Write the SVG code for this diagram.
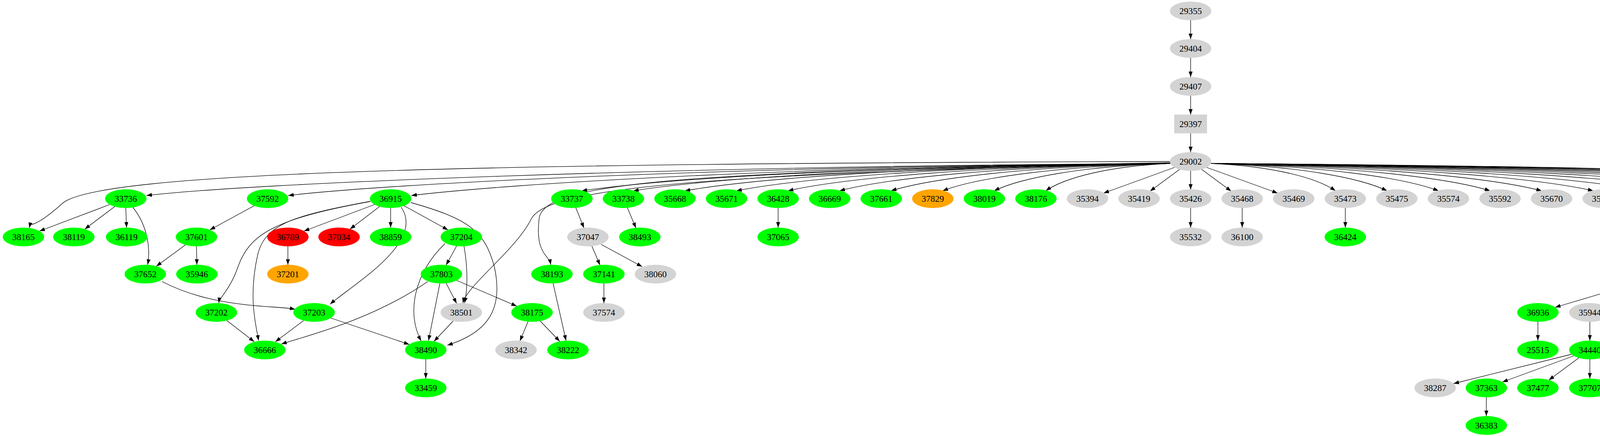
<svg xmlns="http://www.w3.org/2000/svg" width="5483" height="1115" viewBox="0 0 5483 1115">
<style>
.n ellipse,.n rect{stroke:none}
.g ellipse{fill:#00ff00}.y0 ellipse,.y0 rect{fill:#d3d3d3}.r ellipse{fill:#ff0000}.o ellipse{fill:#ffa500}.yl ellipse{fill:#ffff00}
text{font-family:"Liberation Serif","Times New Roman",serif;font-size:23px;text-anchor:middle;fill:#000}
#edges path{fill:none;stroke:#000;stroke-width:1.3;marker-end:url(#ah)}
</style>
<defs><marker id="ah" markerUnits="userSpaceOnUse" markerWidth="14" markerHeight="10" refX="14" refY="5" orient="auto"><path d="M0,0 L14,5 L0,10 z" fill="#000"/></marker></defs>
<rect width="5483" height="1115" fill="#fff"/>
<g id="edges">
<path d="M3048,52 L3048,100"/><path d="M3048,148 L3048,197"/><path d="M3048,245 L3048,293"/><path d="M3048,341 L3048,389"/>
<path d="M2995,413 C1200,418 250,440 160,520 S80,560 75,583"/>
<path d="M2998,416 C1700,440 1390,470 1380,560 S1405,650 1410,677"/>
<path d="M2998,418 C1800,445 1400,480 1360,560 S1195,730 1185,775"/>
<path d="M3020,433 L2944,489"/><path d="M3076,433 L3152,489"/><path d="M3048,437 L3048,485"/>
<path d="M3007,428 L2825,494"/><path d="M3089,428 L3271,494"/>
<path d="M2996,418 C2836,425 2725,455 2677,488"/>
<path d="M2996,418 C2770,425 2613,455 2545,488"/>
<path d="M2996,418 C2704,425 2500,455 2413,488"/>
<path d="M2996,418 C2638,425 2388,455 2281,488"/>
<path d="M2996,418 C2572,425 2276,455 2149,488"/>
<path d="M2996,418 C2506,425 2164,455 2017,488"/>
<path d="M2996,418 C2440,425 2052,455 1885,488"/>
<path d="M2996,418 C2374,425 1939,455 1753,488"/>
<path d="M2996,418 C2308,425 1827,455 1621,488"/>
<path d="M2996,418 C2242,425 1715,455 1489,488"/>
<path d="M2996,418 C2024,425 1303,470 1053,500"/>
<path d="M2996,418 C1867,425 988,470 738,500"/>
<path d="M2996,418 C1685,425 625,470 375,500"/>
<path d="M3100,418 C3259,425 3371,455 3419,488"/>
<path d="M3100,418 C3325,425 3483,455 3551,488"/>
<path d="M3100,418 C3391,425 3596,455 3683,488"/>
<path d="M3100,418 C3457,425 3708,455 3815,488"/>
<path d="M3100,418 C3523,425 3820,455 3947,488"/>
<path d="M3100,418 C3589,425 3932,455 4079,488"/>
<path d="M3100,418 C3655,425 4044,455 4211,488"/>
<path d="M3100,418 C3721,425 4157,455 4343,488"/>
<path d="M3100,418 C3787,425 4269,455 4475,488"/>
<path d="M3100,418 C3853,425 4381,455 4607,488"/>
<path d="M3100,418 C3919,425 4489,455 4739,488"/>
<path d="M3100,418 C3985,425 4621,455 4871,488"/>
<path d="M3100,418 C4051,425 4753,455 5003,488"/>
<path d="M3100,418 C4117,425 4885,455 5135,488"/>
<path d="M3100,418 C4183,425 5017,455 5267,488"/>
<path d="M3100,418 C4249,425 5149,455 5399,488"/>
<path d="M281,523 L101,591"/><path d="M294,528 L217,586"/><path d="M322,532 L324,582"/>
<path d="M340,530 C380,580 385,640 378,677"/>
<path d="M651,526 L537,588"/><path d="M475,626 L400,681"/><path d="M503,630 L504,677"/>
<path d="M959,523 L778,591"/><path d="M972,528 L896,586"/><path d="M1000,532 L1000,582"/><path d="M1034,526 L1147,588"/>
<path d="M948,515 C700,560 640,600 610,680 C590,740 562,760 560,775"/>
<path d="M948,515 C760,550 680,570 660,650 C635,760 655,830 662,871"/>
<path d="M1027,530 C1090,620 900,730 845,778"/>
<path d="M1052,518 C1200,560 1240,590 1265,680 C1290,790 1250,850 1145,883"/>
<path d="M737,630 L737,677"/>
<path d="M1169,629 L1142,678"/>
<path d="M1188,630 C1200,700 1195,750 1189,775"/>
<path d="M1139,623 C1060,700 1040,800 1078,872"/>
<path d="M1142,724 L1169,776"/><path d="M1126,725 L1097,871"/>
<path d="M1095,720 C950,820 780,860 720,880"/>
<path d="M1169,717 L1323,783"/>
<path d="M415,720 C550,790 700,780 756,791"/>
<path d="M581,820 L651,874"/><path d="M777,820 L705,874"/><path d="M846,813 L1048,881"/>
<path d="M1160,821 L1111,873"/><path d="M1090,919 L1090,968"/>
<path d="M1352,822 L1331,872"/><path d="M1383,821 L1433,873"/><path d="M1416,725 L1449,871"/>
<path d="M1474,531 L1495,583"/><path d="M1515,629 L1536,678"/><path d="M1539,625 L1644,682"/><path d="M1546,725 L1546,775"/>
<path d="M1606,531 L1628,583"/><path d="M1992,532 L1992,582"/>
<path d="M3048,532 L3048,582"/><path d="M3180,532 L3180,582"/><path d="M3444,532 L3444,582"/>
<path d="M4236,532 L4236,582"/><path d="M4368,532 L4368,582"/>
<path d="M4345,628 L4291,679"/><path d="M4390,628 L4444,679"/>
<path d="M4224,714 L3981,786"/><path d="M4232,719 L4106,781"/><path d="M4252,724 L4186,776"/><path d="M4284,724 L4318,776"/><path d="M4304,719 L4430,781"/>
<path d="M4494,721 L4570,779"/>
<path d="M3937,823 L3937,871"/><path d="M4070,823 L4070,871"/><path d="M4174,819 L4098,875"/><path d="M4202,823 L4202,871"/>
<path d="M4334,823 L4334,871"/><path d="M4362,819 L4438,875"/><path d="M4598,823 L4598,871"/><path d="M4598,919 L4598,968"/>
<path d="M4023,906 L3721,981"/><path d="M4029,910 L3846,977"/><path d="M4042,915 L3965,972"/><path d="M4070,919 L4070,968"/>
<path d="M4098,915 L4174,972"/><path d="M4111,910 L4293,977"/><path d="M4117,906 L4419,981"/>
<path d="M3805,1016 L3805,1064"/><path d="M4318,1015 L4284,1065"/><path d="M4350,1015 L4384,1065"/>
<path d="M5276,531 L5241,583"/><path d="M5308,531 L5341,583"/><path d="M5209,629 L5174,678"/><path d="M5241,629 L5274,678"/>
</g>
<g id="n29355" class="n y0"><ellipse cx="3048" cy="28" rx="53" ry="24"/><text x="3048" y="36">29355</text></g>
<g id="n29404" class="n y0"><ellipse cx="3048" cy="124" rx="53" ry="24"/><text x="3048" y="132">29404</text></g>
<g id="n29407" class="n y0"><ellipse cx="3048" cy="221" rx="53" ry="24"/><text x="3048" y="229">29407</text></g>
<g id="n29397" class="n y0"><rect x="3006" y="293" width="84" height="48"/><text x="3048" y="325">29397</text></g>
<g id="n29002" class="n y0"><ellipse cx="3048" cy="413" rx="53" ry="24"/><text x="3048" y="421">29002</text></g>
<g id="n33736" class="n g"><ellipse cx="322" cy="508" rx="53" ry="24"/><text x="322" y="516">33736</text></g>
<g id="n37592" class="n g"><ellipse cx="685" cy="508" rx="53" ry="24"/><text x="685" y="516">37592</text></g>
<g id="n36915" class="n g"><ellipse cx="1000" cy="508" rx="53" ry="24"/><text x="1000" y="516">36915</text></g>
<g id="n33737" class="n g"><ellipse cx="1464" cy="508" rx="53" ry="24"/><text x="1464" y="516">33737</text></g>
<g id="n33738" class="n g"><ellipse cx="1596" cy="508" rx="53" ry="24"/><text x="1596" y="516">33738</text></g>
<g id="n35668" class="n g"><ellipse cx="1728" cy="508" rx="53" ry="24"/><text x="1728" y="516">35668</text></g>
<g id="n35671" class="n g"><ellipse cx="1860" cy="508" rx="53" ry="24"/><text x="1860" y="516">35671</text></g>
<g id="n36428" class="n g"><ellipse cx="1992" cy="508" rx="53" ry="24"/><text x="1992" y="516">36428</text></g>
<g id="n36669" class="n g"><ellipse cx="2124" cy="508" rx="53" ry="24"/><text x="2124" y="516">36669</text></g>
<g id="n37661" class="n g"><ellipse cx="2256" cy="508" rx="53" ry="24"/><text x="2256" y="516">37661</text></g>
<g id="n37829" class="n o"><ellipse cx="2388" cy="508" rx="53" ry="24"/><text x="2388" y="516">37829</text></g>
<g id="n38019" class="n g"><ellipse cx="2520" cy="508" rx="53" ry="24"/><text x="2520" y="516">38019</text></g>
<g id="n38176" class="n g"><ellipse cx="2652" cy="508" rx="53" ry="24"/><text x="2652" y="516">38176</text></g>
<g id="n35394" class="n y0"><ellipse cx="2784" cy="508" rx="53" ry="24"/><text x="2784" y="516">35394</text></g>
<g id="n35419" class="n y0"><ellipse cx="2916" cy="508" rx="53" ry="24"/><text x="2916" y="516">35419</text></g>
<g id="n35426" class="n y0"><ellipse cx="3048" cy="508" rx="53" ry="24"/><text x="3048" y="516">35426</text></g>
<g id="n35468" class="n y0"><ellipse cx="3180" cy="508" rx="53" ry="24"/><text x="3180" y="516">35468</text></g>
<g id="n35469" class="n y0"><ellipse cx="3312" cy="508" rx="53" ry="24"/><text x="3312" y="516">35469</text></g>
<g id="n35473" class="n y0"><ellipse cx="3444" cy="508" rx="53" ry="24"/><text x="3444" y="516">35473</text></g>
<g id="n35475" class="n y0"><ellipse cx="3576" cy="508" rx="53" ry="24"/><text x="3576" y="516">35475</text></g>
<g id="n35574" class="n y0"><ellipse cx="3708" cy="508" rx="53" ry="24"/><text x="3708" y="516">35574</text></g>
<g id="n35592" class="n y0"><ellipse cx="3840" cy="508" rx="53" ry="24"/><text x="3840" y="516">35592</text></g>
<g id="n35670" class="n y0"><ellipse cx="3972" cy="508" rx="53" ry="24"/><text x="3972" y="516">35670</text></g>
<g id="n35772" class="n y0"><ellipse cx="4104" cy="508" rx="53" ry="24"/><text x="4104" y="516">35772</text></g>
<g id="n35773" class="n y0"><ellipse cx="4236" cy="508" rx="53" ry="24"/><text x="4236" y="516">35773</text></g>
<g id="n35787" class="n y0"><ellipse cx="4368" cy="508" rx="53" ry="24"/><text x="4368" y="516">35787</text></g>
<g id="n36087" class="n y0"><ellipse cx="4500" cy="508" rx="53" ry="24"/><text x="4500" y="516">36087</text></g>
<g id="n36121" class="n y0"><ellipse cx="4632" cy="508" rx="53" ry="24"/><text x="4632" y="516">36121</text></g>
<g id="n36175" class="n y0"><ellipse cx="4764" cy="508" rx="53" ry="24"/><text x="4764" y="516">36175</text></g>
<g id="n36215" class="n y0"><ellipse cx="4896" cy="508" rx="53" ry="24"/><text x="4896" y="516">36215</text></g>
<g id="n36248" class="n y0"><ellipse cx="5028" cy="508" rx="53" ry="24"/><text x="5028" y="516">36248</text></g>
<g id="n36342" class="n y0"><ellipse cx="5160" cy="508" rx="53" ry="24"/><text x="5160" y="516">36342</text></g>
<g id="n36374" class="n y0"><ellipse cx="5292" cy="508" rx="53" ry="24"/><text x="5292" y="516">36374</text></g>
<g id="n36565" class="n y0"><ellipse cx="5424" cy="508" rx="53" ry="24"/><text x="5424" y="516">36565</text></g>
<g id="n38165" class="n g"><ellipse cx="60" cy="606" rx="53" ry="24"/><text x="60" y="614">38165</text></g>
<g id="n38119" class="n g"><ellipse cx="189" cy="606" rx="53" ry="24"/><text x="189" y="614">38119</text></g>
<g id="n36119" class="n g"><ellipse cx="324" cy="606" rx="53" ry="24"/><text x="324" y="614">36119</text></g>
<g id="n37601" class="n g"><ellipse cx="503" cy="606" rx="53" ry="24"/><text x="503" y="614">37601</text></g>
<g id="n36789" class="n r"><ellipse cx="737" cy="606" rx="53" ry="24"/><text x="737" y="614">36789</text></g>
<g id="n37034" class="n r"><ellipse cx="868" cy="606" rx="53" ry="24"/><text x="868" y="614">37034</text></g>
<g id="n38859" class="n g"><ellipse cx="1000" cy="606" rx="53" ry="24"/><text x="1000" y="614">38859</text></g>
<g id="n37204" class="n g"><ellipse cx="1181" cy="606" rx="53" ry="24"/><text x="1181" y="614">37204</text></g>
<g id="n37047" class="n y0"><ellipse cx="1505" cy="606" rx="53" ry="24"/><text x="1505" y="614">37047</text></g>
<g id="n38493" class="n g"><ellipse cx="1638" cy="606" rx="53" ry="24"/><text x="1638" y="614">38493</text></g>
<g id="n37065" class="n g"><ellipse cx="1992" cy="606" rx="53" ry="24"/><text x="1992" y="614">37065</text></g>
<g id="n35532" class="n y0"><ellipse cx="3048" cy="606" rx="53" ry="24"/><text x="3048" y="614">35532</text></g>
<g id="n36100" class="n y0"><ellipse cx="3180" cy="606" rx="53" ry="24"/><text x="3180" y="614">36100</text></g>
<g id="n36424" class="n g"><ellipse cx="3444" cy="606" rx="53" ry="24"/><text x="3444" y="614">36424</text></g>
<g id="n29509" class="n g"><ellipse cx="4236" cy="606" rx="53" ry="24"/><text x="4236" y="614">29509</text></g>
<g id="n35788" class="n y0"><ellipse cx="4368" cy="606" rx="53" ry="24"/><text x="4368" y="614">35788</text></g>
<g id="n36373" class="n y0"><ellipse cx="5225" cy="606" rx="53" ry="24"/><text x="5225" y="614">36373</text></g>
<g id="n35813" class="n g"><ellipse cx="5357" cy="606" rx="53" ry="24"/><text x="5357" y="614">35813</text></g>
<g id="n37652" class="n g"><ellipse cx="372" cy="701" rx="53" ry="24"/><text x="372" y="709">37652</text></g>
<g id="n35946" class="n g"><ellipse cx="504" cy="701" rx="53" ry="24"/><text x="504" y="709">35946</text></g>
<g id="n37201" class="n o"><ellipse cx="737" cy="701" rx="53" ry="24"/><text x="737" y="709">37201</text></g>
<g id="n37803" class="n g"><ellipse cx="1130" cy="701" rx="53" ry="24"/><text x="1130" y="709">37803</text></g>
<g id="n38193" class="n g"><ellipse cx="1413" cy="701" rx="53" ry="24"/><text x="1413" y="709">38193</text></g>
<g id="n37141" class="n g"><ellipse cx="1546" cy="701" rx="53" ry="24"/><text x="1546" y="709">37141</text></g>
<g id="n38060" class="n y0"><ellipse cx="1678" cy="701" rx="53" ry="24"/><text x="1678" y="709">38060</text></g>
<g id="n35248" class="n y0"><ellipse cx="4268" cy="701" rx="53" ry="24"/><text x="4268" y="709">35248</text></g>
<g id="n35789" class="n y0"><ellipse cx="4466" cy="701" rx="53" ry="24"/><text x="4466" y="709">35789</text></g>
<g id="n37151" class="n g"><ellipse cx="5158" cy="701" rx="53" ry="24"/><text x="5158" y="709">37151</text></g>
<g id="n37153" class="n g"><ellipse cx="5290" cy="701" rx="53" ry="24"/><text x="5290" y="709">37153</text></g>
<g id="n37202" class="n g"><ellipse cx="554" cy="799" rx="53" ry="24"/><text x="554" y="807">37202</text></g>
<g id="n37203" class="n g"><ellipse cx="804" cy="799" rx="53" ry="24"/><text x="804" y="807">37203</text></g>
<g id="n38501" class="n y0"><ellipse cx="1181" cy="799" rx="53" ry="24"/><text x="1181" y="807">38501</text></g>
<g id="n38175" class="n g"><ellipse cx="1362" cy="799" rx="53" ry="24"/><text x="1362" y="807">38175</text></g>
<g id="n37574" class="n y0"><ellipse cx="1546" cy="799" rx="53" ry="24"/><text x="1546" y="807">37574</text></g>
<g id="n36936" class="n g"><ellipse cx="3937" cy="799" rx="53" ry="24"/><text x="3937" y="807">36936</text></g>
<g id="n35944" class="n y0"><ellipse cx="4070" cy="799" rx="53" ry="24"/><text x="4070" y="807">35944</text></g>
<g id="n36120" class="n y0"><ellipse cx="4202" cy="799" rx="53" ry="24"/><text x="4202" y="807">36120</text></g>
<g id="n35906" class="n y0"><ellipse cx="4334" cy="799" rx="53" ry="24"/><text x="4334" y="807">35906</text></g>
<g id="n35937" class="n g"><ellipse cx="4466" cy="799" rx="53" ry="24"/><text x="4466" y="807">35937</text></g>
<g id="n35790" class="n y0"><ellipse cx="4598" cy="799" rx="53" ry="24"/><text x="4598" y="807">35790</text></g>
<g id="n36666" class="n g"><ellipse cx="678" cy="895" rx="53" ry="24"/><text x="678" y="903">36666</text></g>
<g id="n38490" class="n g"><ellipse cx="1090" cy="895" rx="53" ry="24"/><text x="1090" y="903">38490</text></g>
<g id="n38342" class="n y0"><ellipse cx="1321" cy="895" rx="53" ry="24"/><text x="1321" y="903">38342</text></g>
<g id="n38222" class="n g"><ellipse cx="1454" cy="895" rx="53" ry="24"/><text x="1454" y="903">38222</text></g>
<g id="n25515" class="n g"><ellipse cx="3937" cy="895" rx="53" ry="24"/><text x="3937" y="903">25515</text></g>
<g id="n34440" class="n g"><ellipse cx="4070" cy="895" rx="53" ry="24"/><text x="4070" y="903">34440</text></g>
<g id="n37000" class="n y0"><ellipse cx="4202" cy="895" rx="53" ry="24"/><text x="4202" y="903">37000</text></g>
<g id="n38205" class="n g"><ellipse cx="4334" cy="895" rx="53" ry="24"/><text x="4334" y="903">38205</text></g>
<g id="n38434" class="n y0"><ellipse cx="4466" cy="895" rx="53" ry="24"/><text x="4466" y="903">38434</text></g>
<g id="n35781" class="n g"><ellipse cx="4598" cy="895" rx="53" ry="24"/><text x="4598" y="903">35781</text></g>
<g id="n33459" class="n g"><ellipse cx="1090" cy="992" rx="53" ry="24"/><text x="1090" y="1000">33459</text></g>
<g id="n38287" class="n y0"><ellipse cx="3674" cy="992" rx="53" ry="24"/><text x="3674" y="1000">38287</text></g>
<g id="n37363" class="n g"><ellipse cx="3805" cy="992" rx="53" ry="24"/><text x="3805" y="1000">37363</text></g>
<g id="n37477" class="n g"><ellipse cx="3937" cy="992" rx="53" ry="24"/><text x="3937" y="1000">37477</text></g>
<g id="n37707" class="n g"><ellipse cx="4070" cy="992" rx="53" ry="24"/><text x="4070" y="1000">37707</text></g>
<g id="n38308" class="n g"><ellipse cx="4202" cy="992" rx="53" ry="24"/><text x="4202" y="1000">38308</text></g>
<g id="n37354" class="n y0"><ellipse cx="4334" cy="992" rx="53" ry="24"/><text x="4334" y="1000">37354</text></g>
<g id="n38016" class="n y0"><ellipse cx="4466" cy="992" rx="53" ry="24"/><text x="4466" y="1000">38016</text></g>
<g id="n35791" class="n g"><ellipse cx="4598" cy="992" rx="53" ry="24"/><text x="4598" y="1000">35791</text></g>
<g id="n36383" class="n g"><ellipse cx="3805" cy="1088" rx="53" ry="24"/><text x="3805" y="1096">36383</text></g>
<g id="n36271" class="n r"><ellipse cx="4268" cy="1088" rx="53" ry="24"/><text x="4268" y="1096">36271</text></g>
<g id="n37618" class="n yl"><ellipse cx="4400" cy="1088" rx="53" ry="24"/><text x="4400" y="1096">37618</text></g>
</svg>
